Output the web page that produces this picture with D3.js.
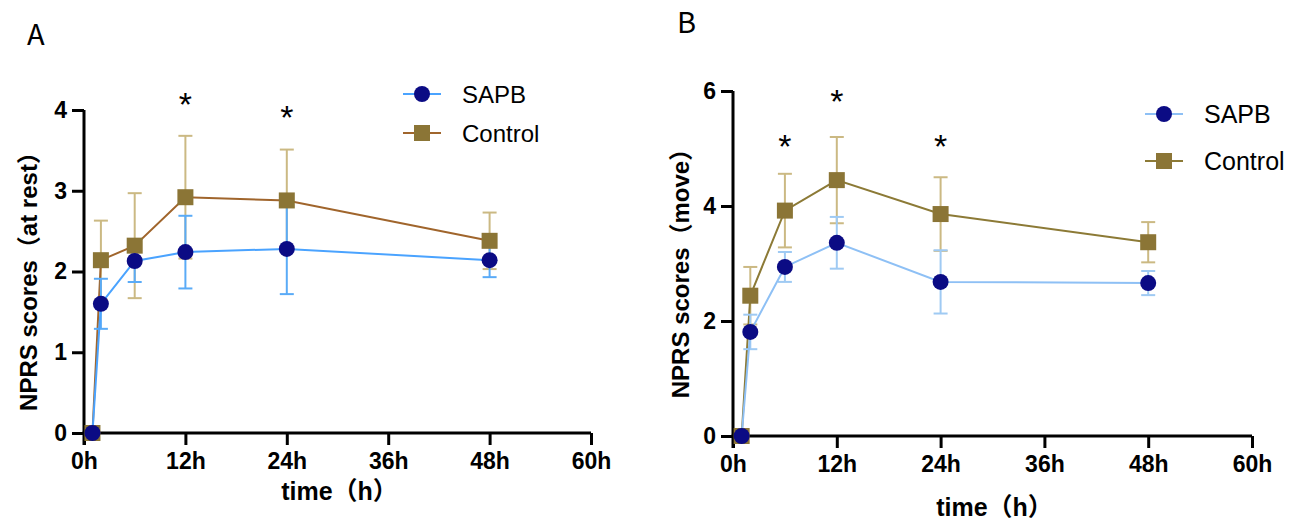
<!DOCTYPE html>
<html>
<head>
<meta charset="utf-8">
<script src="https://cdn.jsdelivr.net/npm/d3@7"></script>
<style>
  body { margin: 0; background: #fff; }
  text { font-family: "Liberation Sans", Arial, "Noto Sans CJK SC", sans-serif; }
</style>
</head>
<body>
<div id="chart-container"></div>
<script>
// time points (hours)
var times = [1, 2, 6, 12, 24, 48];
var xTicks = [0, 12, 24, 36, 48, 60];

// panel A: at rest
var restSapbMean = [0, 1.60, 2.13, 2.24, 2.28, 2.14];
var restSapbSd   = [0, 0.31, 0.26, 0.45, 0.56, 0.21];
var restCtrlMean = [0, 2.14, 2.32, 2.92, 2.88, 2.38];
var restCtrlSd   = [0, 0.49, 0.65, 0.76, 0.63, 0.35];
var restStars = [{ t: 12, v: 4.12 }, { t: 24, v: 3.96 }];

// panel B: move
var moveSapbMean = [0, 1.81, 2.94, 3.36, 2.68, 2.66];
var moveSapbSd   = [0, 0.30, 0.26, 0.45, 0.55, 0.21];
var moveCtrlMean = [0, 2.44, 3.92, 4.45, 3.86, 3.37];
var moveCtrlSd   = [0, 0.50, 0.64, 0.75, 0.64, 0.35];
var moveStars = [{ t: 6, v: 5.11 }, { t: 12, v: 5.9 }, { t: 24, v: 5.11 }];

var svg = d3.select("#chart-container")
    .append("svg")
    .attr("width", 1296)
    .attr("height", 521);

function drawPanel(p) {
    var x = d3.scaleLinear().domain([0, 60]).range([p.x0, p.x1]);
    var y = d3.scaleLinear().domain([0, p.yMax]).range([p.y0, p.y1]);
    var g = svg.append("g");

    // x axis
    var xa = g.append("g")
        .attr("transform", "translate(0," + p.y0 + ")")
        .call(d3.axisBottom(x).tickValues(xTicks).tickSize(12).tickSizeOuter(0).tickPadding(7)
            .tickFormat(function(d) { return d + "h"; }));
    // y axis
    var ya = g.append("g")
        .attr("transform", "translate(" + p.x0 + ",0)")
        .call(d3.axisLeft(y).tickValues(p.yTicks).tickSize(12).tickSizeOuter(0).tickPadding(5)
            .tickFormat(d3.format("d")));
    [xa, ya].forEach(function(a) {
        a.select(".domain").attr("stroke", "#000").attr("stroke-width", 3);
        a.selectAll(".tick line").attr("stroke", "#000").attr("stroke-width", 3);
        a.selectAll(".tick text").attr("fill", "#000").style("font-weight", "bold");
    });
    xa.selectAll(".tick text").style("font-size", "23px").attr("dy", "0.76em");
    ya.selectAll(".tick text").style("font-size", "23px");
    xa.select(".domain").attr("d", "M" + (p.x0 - 1.5) + ",0H" + p.x1);
    ya.select(".domain").attr("d", "M0," + p.y1 + "V" + (p.y0 + 12));

    var series = [
        { mean: p.ctrlMean, sd: p.ctrlSd, line: p.ctrlLine, err: p.ctrlErr, square: true },
        { mean: p.sapbMean, sd: p.sapbSd, line: p.sapbLine, err: p.sapbErr, square: false }
    ];

    series.forEach(function(s) {
        var pts = times.map(function(t, i) { return { t: t, m: s.mean[i], sd: s.sd[i] }; });
        // error bars
        var eb = g.append("g");
        pts.forEach(function(d) {
            if (d.sd === 0) return;
            var cx = x(d.t), top = y(d.m + d.sd), bot = y(d.m - d.sd);
            eb.append("line").attr("x1", cx).attr("x2", cx).attr("y1", top).attr("y2", bot)
                .attr("stroke", s.err).attr("stroke-width", 2);
            [top, bot].forEach(function(yy) {
                eb.append("line").attr("x1", cx - 7).attr("x2", cx + 7).attr("y1", yy).attr("y2", yy)
                    .attr("stroke", s.err).attr("stroke-width", 2);
            });
        });
        g.append("path").datum(pts)
            .attr("fill", "none").attr("stroke", s.line).attr("stroke-width", 2)
            .attr("d", d3.line().x(function(d) { return x(d.t); }).y(function(d) { return y(d.m); }));
    });

    // markers drawn last
    series.forEach(function(s) {
        times.forEach(function(t, i) {
            if (s.square) {
                g.append("rect").attr("x", x(t) - 8).attr("y", y(s.mean[i]) - 8)
                    .attr("width", 16).attr("height", 16).attr("fill", "#8b7536");
            } else {
                g.append("circle").attr("cx", x(t)).attr("cy", y(s.mean[i])).attr("r", 8)
                    .attr("fill", "#0b0b84");
            }
        });
    });

    // significance stars
    p.stars.forEach(function(st) {
        g.append("text").attr("x", x(st.t)).attr("y", y(st.v) + 16)
            .attr("text-anchor", "middle").attr("fill", "#000")
            .style("font-size", "34px").text("*");
    });

    // axis titles
    g.append("text")
        .attr("transform", "translate(" + p.yLabelX + "," + ((p.y0 + p.y1) / 2 + 4) + ") rotate(-90)")
        .attr("text-anchor", "middle").style("font-size", "24px").style("font-weight", "bold")
        .text(p.yLabel);
    g.append("text").attr("x", (p.x0 + p.x1) / 2 + 2).attr("y", p.xLabelY)
        .attr("text-anchor", "middle").style("font-size", "25px").style("font-weight", "bold")
        .text("time（h）");

    // panel letter
    g.append("text").attr("x", p.letterX).attr("y", p.letterY)
        .style("font-size", "29px").style("font-family", "Noto Sans CJK SC").text(p.letter);

    // legend
    var lg = g.append("g").attr("transform", "translate(" + p.legX + "," + p.legY + ")");
    [{ name: "SAPB", line: p.sapbLine, square: false }, { name: "Control", line: p.ctrlLine, square: true }]
        .forEach(function(d, i) {
            var yy = i * p.legGap;
            lg.append("line").attr("x1", -19).attr("x2", 19).attr("y1", yy).attr("y2", yy)
                .attr("stroke", d.line).attr("stroke-width", 2);
            if (d.square) lg.append("rect").attr("x", -8).attr("y", yy - 8).attr("width", 16).attr("height", 16).attr("fill", "#8b7536");
            else lg.append("circle").attr("cy", yy).attr("r", 8).attr("fill", "#0b0b84");
            lg.append("text").attr("x", 40).attr("y", yy + 9).style("font-size", p.legFont).text(d.name);
        });
}

drawPanel({
    x0: 84, x1: 591, y0: 433, y1: 110, yMax: 4, yTicks: [0, 1, 2, 3, 4],
    sapbMean: restSapbMean, sapbSd: restSapbSd, ctrlMean: restCtrlMean, ctrlSd: restCtrlSd,
    sapbLine: "#4aa3ff", sapbErr: "#5aabf7", ctrlLine: "#a0652c", ctrlErr: "#cbb983",
    stars: restStars, yLabel: "NPRS scores（at rest）", yLabelX: 37, xLabelY: 500,
    letter: "A", letterX: 27, letterY: 45,
    legX: 422, legY: 94, legGap: 39, legFont: "24px"
});

drawPanel({
    x0: 733, x1: 1252, y0: 436, y1: 91, yMax: 6, yTicks: [0, 2, 4, 6],
    sapbMean: moveSapbMean, sapbSd: moveSapbSd, ctrlMean: moveCtrlMean, ctrlSd: moveCtrlSd,
    sapbLine: "#8ec0f5", sapbErr: "#9fcaf3", ctrlLine: "#8c7a36", ctrlErr: "#cbb983",
    stars: moveStars, yLabel: "NPRS scores（move）", yLabelX: 689, xLabelY: 516,
    letter: "B", letterX: 677, letterY: 33,
    legX: 1164, legY: 114, legGap: 47, legFont: "25px"
});
</script>
</body>
</html>
